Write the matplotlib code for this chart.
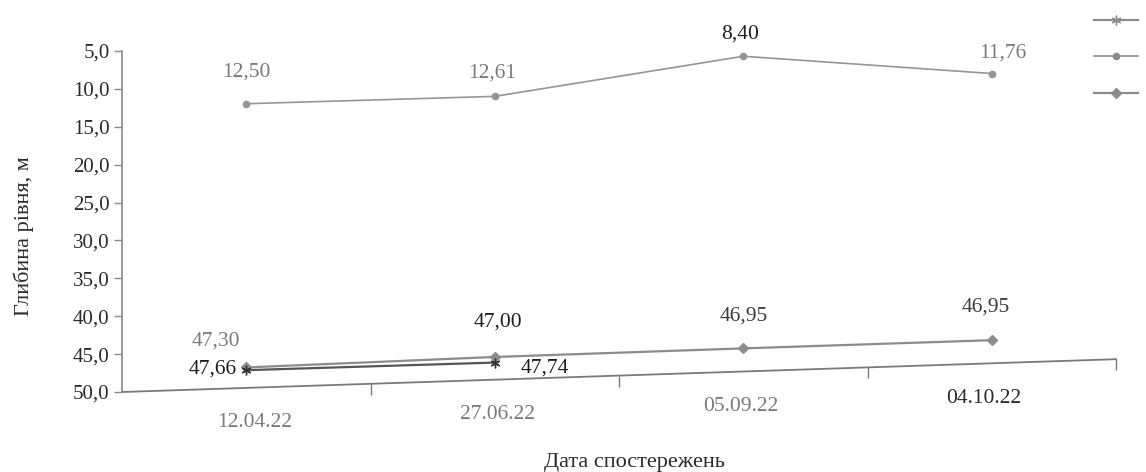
import numpy as np
import matplotlib
matplotlib.use("Agg")
import matplotlib.pyplot as plt
from matplotlib.transforms import Affine2D

plt.rcParams['font.family'] = ['Liberation Serif', 'DejaVu Serif']

dates = ["12.04.22", "27.06.22", "05.09.22", "04.10.22"]
well_a = [47.66, 47.74]                 # asterisk series, two dates only
well_b = [12.50, 12.61, 8.40, 11.76]    # circle series
well_c = [47.30, 47.00, 46.95, 46.95]   # diamond series
y_ticks = [5, 10, 15, 20, 25, 30, 35, 40, 45, 50]

# label offsets in points and label colours
off_a = [(-24, 1), (36, -4)]
off_b = [(0, 23), (-2, 17), (-2, 16), (8, 15)]
off_c = [(-22, 19), (2, 25), (0, 23), (-4, 24)]
col_a = ["#1e1e1e", "#1e1e1e"]
col_b = ["#7a7a7a", "#7a7a7a", "#1e1e1e", "#7a7a7a"]
col_c = ["#7a7a7a", "#1e1e1e", "#3c3c3c", "#3c3c3c"]
date_dx = [6, 2, -2, -6]

W, H, DPI = 1146, 472, 100
fig = plt.figure(figsize=(W / DPI, H / DPI), dpi=DPI)
left, right, top, bottom = 122, 1116, 51, 392
ax = fig.add_axes([left / W, (H - bottom) / H, (right - left) / W, (bottom - top) / H])

# the whole plot area leans upward to the right
k = 0.033
shear = Affine2D().translate(-left, 0).skew(0, np.arctan(k)).translate(left, 0)
tr = ax.transData + shear

x = np.arange(len(dates))
line_grey = "#8c8c8c"

la, = ax.plot(x[:len(well_a)], well_a, color="#555555", lw=1.6, marker=(6, 2, 0),
              ms=7, mec="#333333", transform=tr, clip_on=False, zorder=4)
lb, = ax.plot(x, well_b, color="#959595", lw=1.2, marker="o", ms=4.5,
              mec="#959595", transform=tr, clip_on=False)
lc, = ax.plot(x, well_c, color=line_grey, lw=1.6, marker="D", ms=5.5,
              mec=line_grey, transform=tr, clip_on=False)

for vals, offs, cols in [(well_a, off_a, col_a), (well_b, off_b, col_b), (well_c, off_c, col_c)]:
    for i, v in enumerate(vals):
        ax.annotate(f"{v:.2f}".replace(".", ","), xy=(i, v), xycoords=tr,
                    xytext=offs[i], textcoords="offset points", ha="center", va="center",
                    fontsize=15.5, color=cols[i], annotation_clip=False)

ax.set_xlim(-0.5, len(dates) - 0.5)
ax.set_ylim(50, 5)
ax.set_yticks(y_ticks)
ax.set_yticklabels([f"{t:.1f}".replace(".", ",") for t in y_ticks], fontsize=15, color="#2a2a2a")
ax.tick_params(axis="y", length=6, color="#8a8a8a", width=1.0, pad=3)
ax.set_xticks([])
for s in ["top", "right", "bottom"]:
    ax.spines[s].set_visible(False)
ax.spines["left"].set_color("#8a8a8a")
ax.spines["left"].set_linewidth(1.2)

# category axis, drawn with the same lean
edges = np.arange(len(dates) + 1) - 0.5
ax.plot([edges[0], edges[-1]], [50, 50], color="#7a7a7a", lw=1.3, transform=tr, clip_on=False)
ax.plot(edges[1:], [50] * (len(edges) - 1), ls="none", marker=3, ms=8, mew=1.0,
        color="#7a7a7a", transform=tr, clip_on=False)
for i, d in enumerate(dates):
    ax.annotate(d, xy=(i, 50), xycoords=tr, xytext=(date_dx[i], -25), textcoords="offset points",
                ha="center", va="center", fontsize=15.5,
                color="#7a7a7a" if i < 3 else "#2a2a2a", annotation_clip=False)

fig.text(634 / W, 1 - 462 / H, "Дата спостережень", ha="center", va="center",
         fontsize=16, color="#2a2a2a")
fig.text(24 / W, 1 - 236 / H, "Глибина рівня, м", ha="center", va="center",
         rotation=90, fontsize=16, color="#2a2a2a")

fig.legend([la, lb, lc], ["", "", ""], loc="upper right", bbox_to_anchor=(1.0, 1 - 5 / H),
           frameon=False, handlelength=2.6, handletextpad=0, borderpad=0,
           labelspacing=1.25, fontsize=12)
for h in fig.legends[0].legend_handles:
    h.set_color(line_grey)
    h.set_markeredgecolor(line_grey)

fig.savefig("out.png", dpi=DPI)
